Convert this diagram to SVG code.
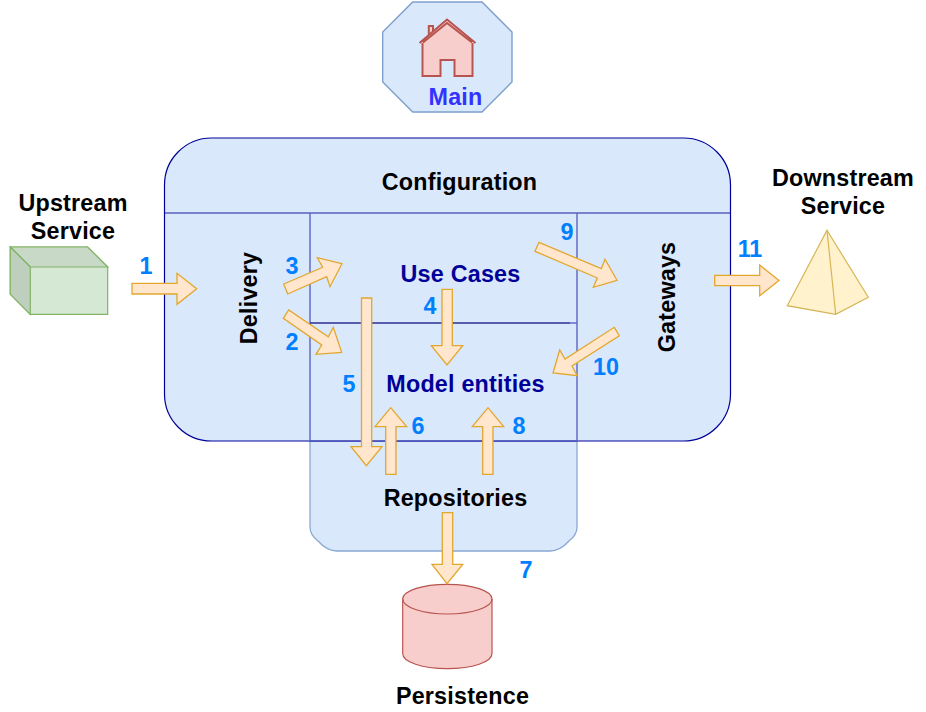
<svg xmlns="http://www.w3.org/2000/svg" width="926" height="712" viewBox="0 0 926 712">
<style>
text{font-family:"Liberation Sans",Arial,sans-serif;font-weight:bold;font-size:23.33px;letter-spacing:.2px;text-anchor:middle}
.k{fill:#000}
.u{fill:#000099}
.n{fill:#007FFF;letter-spacing:0}
.a{fill:#ffe6cc;stroke:#e2a72e;stroke-width:1.3;stroke-linejoin:miter}
.h{fill:#f8cecc;stroke:#b85450;stroke-width:2}
</style>
<rect width="926" height="712" fill="#fff"/>
<g id="main">
<polygon points="412.7,2 482,2 512,32 512,82 482,112 412.7,112 382.7,82 382.7,32" fill="#dae8fc" stroke="#7d9fcd" stroke-width="1.4"/>
<path class="h" d="M422.5,41 V76 H440.5 V60 H454.5 V76 H472.5 V41"/>
<path class="h" d="M428.8,35 V26 H433 V31.5"/>
<path d="M422.5,41 L447,22 L472.5,41 Z" fill="#f8cecc"/>
<path class="h" d="M419.5,43 L447,19.5 L475.5,43 M423,42.5 L447,23 L472,42.5" fill="none"/>
<text x="455.5" y="105" fill="#3333FF">Main</text>
</g>
<g id="repositories">
<path d="M310,441 V527 Q310,535 318,541 Q327,551 337,551 H550 Q560,551 569,541 Q577,535 577,527 V441 Z" fill="#dae8fc" stroke="#8aa8d2" stroke-width="1.3"/>
<text class="k" x="455.5" y="506">Repositories</text>
</g>
<g id="configuration">
<rect x="164.5" y="138" width="566" height="303" rx="47" ry="47" fill="#dae8fc" stroke="#000099" stroke-width="1.2"/>
<line x1="164.5" y1="213" x2="730.5" y2="213" stroke="#1a1a9e" stroke-width="1.2"/>
<text class="k" x="459.5" y="190">Configuration</text>
</g>
<g id="delivery">
<line x1="310" y1="213" x2="310" y2="441" stroke="#5c64c4" stroke-width="1.4"/>
<text class="k" transform="translate(257,298) rotate(-90)">Delivery</text>
</g>
<g id="gateways">
<line x1="577" y1="213" x2="577" y2="441" stroke="#5c64c4" stroke-width="1.4"/>
<text class="k" transform="translate(675,297) rotate(-90)">Gateways</text>
</g>
<g id="use-cases">
<line x1="310" y1="323" x2="570" y2="323" stroke="#2f2f90" stroke-width="1.4"/>
<line x1="570" y1="323" x2="577" y2="323" stroke="#5c64c4" stroke-width="1.4"/>
<text class="u" x="460.5" y="282">Use Cases</text>
</g>
<g id="model-entities">
<line x1="310" y1="441" x2="577" y2="441" stroke="#4a52bc" stroke-width="1.2"/>
<text class="u" x="465.5" y="392">Model entities</text>
</g>
<g id="upstream-service">
<polygon points="10.3,247 87.7,247 107.7,267 107.7,314.3 30.3,314.3 10.3,294.3" fill="#d5e8d4" stroke="#82b366" stroke-width="1.2"/>
<polygon points="10.3,247 87.7,247 107.7,267 30.3,267" fill="#c8d9c7" stroke="#82b366" stroke-width="1.2"/>
<polygon points="10.3,247 30.3,267 30.3,314.3 10.3,294.3" fill="#bfcfbe" stroke="#82b366" stroke-width="1.2"/>
<text class="k" x="73" y="211">Upstream</text>
<text class="k" x="73" y="239">Service</text>
</g>
<g id="downstream-service">
<polygon points="827,230.3 868.3,297.3 835.7,314.3 787.3,305.7" fill="#fff2cc" stroke="#d6b656" stroke-width="1.2"/>
<line x1="827" y1="230.3" x2="835.7" y2="314.3" stroke="#d6b656" stroke-width="1.2"/>
<text class="k" x="843" y="186">Downstream</text>
<text class="k" x="843" y="214">Service</text>
</g>
<g id="persistence">
<path d="M402.7,599 V653.5 C402.7,662 422,668.7 447.3,668.7 C472.7,668.7 492,662 492,653.5 V599 C492,591 472.7,584.3 447.3,584.3 C422,584.3 402.7,591 402.7,599 Z" fill="#f8cecc" stroke="#b85450" stroke-width="1.2"/>
<path d="M402.7,599 C402.7,607 422,614 447.3,614 C472.7,614 492,607 492,599" fill="none" stroke="#b85450" stroke-width="1.2"/>
<text class="k" x="462.5" y="704">Persistence</text>
</g>
<g id="connectors">
<polygon class="a" points="132,283.3 177,283.3 177,273.3 196.7,288.7 177,304.3 177,294 132,294"/>
<polygon class="a" points="283.3,318.3 288.7,310 328.3,336.7 333.3,327.3 341.7,352.3 316,354.3 321.7,345"/>
<polygon class="a" points="283.7,284 287.7,294 326.7,276.7 330,286.7 342,263.7 317.3,257.7 322.7,267.3"/>
<polygon class="a" points="442,289.3 452.3,289.3 452.3,345.7 462.7,345.7 447,365 431.3,345.7 442,345.7"/>
<polygon class="a" points="361.5,298 371.7,298 371.7,446.7 382,446.7 366.4,465.7 351,446.7 361.5,446.7"/>
<polygon class="a" points="385.7,474.3 396,474.3 396,426.7 406.7,426.7 390.7,407.7 375,426.7 385.7,426.7"/>
<polygon class="a" points="442.3,512.7 452.7,512.7 452.7,564.3 462.7,564.3 447,583.7 432,564.3 442.3,564.3"/>
<polygon class="a" points="482.7,474.3 493,474.3 493,426.7 503.7,426.7 488,407.7 472.3,426.7 482.7,426.7"/>
<polygon class="a" points="535,251.3 539,242.3 601.3,268.7 605,259.3 617,280.3 593.3,287.3 597.3,278"/>
<polygon class="a" points="614.3,327.3 619.3,335.7 572,366 577.3,375.7 553,373 559.7,350 565,359"/>
<polygon class="a" points="714.7,275.3 759.7,275.3 759.7,265 779,280.5 759.7,295.7 759.7,285.7 714.7,285.7"/>
<text class="n" x="146" y="274">1</text>
<text class="n" x="292" y="350">2</text>
<text class="n" x="292" y="274">3</text>
<text class="n" x="430" y="314">4</text>
<text class="n" x="349" y="392">5</text>
<text class="n" x="418" y="434">6</text>
<text class="n" x="526" y="578">7</text>
<text class="n" x="519" y="434">8</text>
<text class="n" x="567" y="240">9</text>
<text class="n" x="606" y="375">10</text>
<text class="n" x="750" y="257">11</text>
</g>
</svg>
